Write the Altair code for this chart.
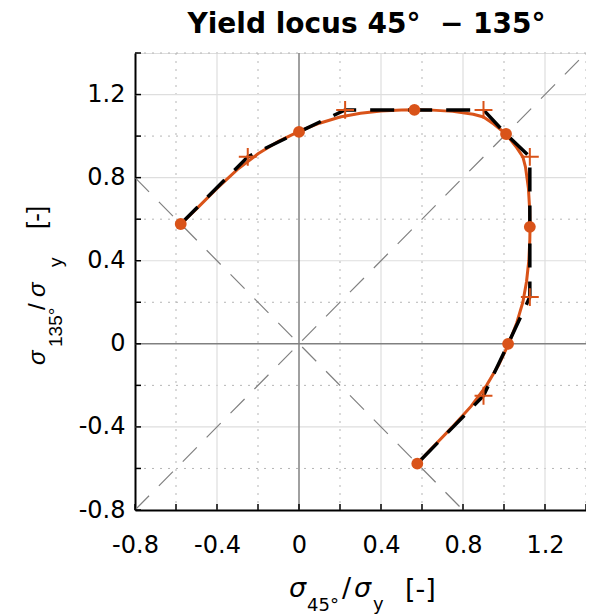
import altair as alt
import pandas as pd

# ---------------- data ----------------
tick_values = [-0.8, -0.6, -0.4, -0.2, 0.0, 0.2, 0.4, 0.6, 0.8, 1.0, 1.2, 1.4]
label_values = [-0.8, -0.4, 0.0, 0.4, 0.8, 1.2]
grid_major = [-0.4, 0.4, 0.8, 1.2]
grid_minor = [-0.6, -0.2, 0.2, 0.6, 1.0, 1.4]
zero_lines = [0.0]

diag_id = ["d1", "d1", "d2", "d2"]
diag_x = [-0.8, 1.4, -0.8, 0.8]
diag_y = [-0.8, 1.4, 0.8, -0.8]

# smooth fitted yield locus (orange)
curve_x = [-0.577, -0.5, -0.4, -0.3, -0.2, -0.1, 0.0, 0.1, 0.2, 0.3, 0.4, 0.5, 0.563,
           0.65, 0.75, 0.85, 0.9, 0.95, 1.01,
           1.058, 1.092, 1.105, 1.119, 1.125, 1.127, 1.126, 1.121, 1.11, 1.092, 1.062,
           1.023, 0.975, 0.915, 0.84, 0.748, 0.65, 0.577]
curve_y = [0.577, 0.65, 0.748, 0.84, 0.915, 0.975, 1.023, 1.062, 1.092, 1.11, 1.121, 1.126, 1.127,
           1.125, 1.119, 1.105, 1.092, 1.058, 1.01,
           0.95, 0.9, 0.85, 0.75, 0.65, 0.563, 0.5, 0.4, 0.3, 0.2, 0.1,
           0.0, -0.1, -0.2, -0.3, -0.4, -0.5, -0.577]

# black dashed polygon
dash_x = [-0.577, -0.25, 0.0, 0.225, 0.563, 0.9, 1.01, 1.126, 1.126, 1.126, 1.02, 0.9, 0.577]
dash_y = [0.577, 0.9, 1.02, 1.126, 1.126, 1.126, 1.01, 0.9, 0.563, 0.225, 0.0, -0.25, -0.577]

# orange filled dots
dot_x = [-0.577, 0.0, 0.563, 1.01, 1.126, 1.02, 0.577]
dot_y = [0.577, 1.02, 1.126, 1.01, 0.563, 0.0, -0.577]

# orange plus markers
plus_x = [-0.25, 0.225, 0.9, 1.126, 1.126, 0.9]
plus_y = [0.9, 1.126, 1.126, 0.9, 0.225, -0.25]

ORANGE = "#D95319"
W, H = 451, 457

xs = alt.Scale(domain=[-0.8, 1.4], nice=False, zero=False)
ys = alt.Scale(domain=[-0.8, 1.4], nice=False, zero=False)

axis_common = dict(
    values=label_values, labelExpr="'' + datum.value", title=None, grid=False,
    ticks=False, tickSize=0, domainColor="black", domainWidth=2,
    labelFont="DejaVu Sans", labelFontSize=24, labelColor="black",
    labelFlush=False, labelOverlap=False,
)
AX = alt.Axis(labelPadding=23, **axis_common)
AY = alt.Axis(labelPadding=10, **axis_common)

grid_minor_df = pd.DataFrame({"v": grid_minor})
grid_major_df = pd.DataFrame({"v": grid_major})
zero_df = pd.DataFrame({"v": zero_lines})
tick_df = pd.DataFrame({"v": tick_values})

def X(f):
    return alt.X(f, scale=xs, axis=AX)

def Y(f):
    return alt.Y(f, scale=ys, axis=AY)

vminor = alt.Chart(grid_minor_df).mark_rule(color="#b5b5b5", strokeWidth=1, strokeDash=[2, 6]).encode(x=X("v:Q"))
hminor = alt.Chart(grid_minor_df).mark_rule(color="#b5b5b5", strokeWidth=1, strokeDash=[2, 6]).encode(y=Y("v:Q"))
vmajor = alt.Chart(grid_major_df).mark_rule(color="#dedede", strokeWidth=1.2).encode(x=X("v:Q"))
hmajor = alt.Chart(grid_major_df).mark_rule(color="#dedede", strokeWidth=1.2).encode(y=Y("v:Q"))
vzero = alt.Chart(zero_df).mark_rule(color="#808080", strokeWidth=1.5).encode(x=X("v:Q"))
hzero = alt.Chart(zero_df).mark_rule(color="#808080", strokeWidth=1.5).encode(y=Y("v:Q"))

diag_df = pd.DataFrame({"id": diag_id, "x": diag_x, "y": diag_y})
diag = alt.Chart(diag_df).mark_line(color="#808080", strokeWidth=1.2, strokeDash=[20, 14]).encode(
    x=X("x:Q"), y=Y("y:Q"), detail="id:N")

xticks = alt.Chart(tick_df).mark_rule(color="black", strokeWidth=1.5).encode(
    x=X("v:Q"), y=alt.value(H), y2=alt.value(H - 6))
yticks = alt.Chart(tick_df).mark_rule(color="black", strokeWidth=1.5).encode(
    y=Y("v:Q"), x=alt.value(0), x2=alt.value(6))

curve_df = pd.DataFrame({"x": curve_x, "y": curve_y, "i": range(len(curve_x))})
curve = alt.Chart(curve_df).mark_line(color=ORANGE, strokeWidth=3).encode(
    x=X("x:Q"), y=Y("y:Q"), order="i:Q")

dash_df = pd.DataFrame({"x": dash_x, "y": dash_y, "i": range(len(dash_x))})
dashed = alt.Chart(dash_df).mark_line(color="black", strokeWidth=3.5, strokeDash=[24, 14]).encode(
    x=X("x:Q"), y=Y("y:Q"), order="i:Q")

dots = alt.Chart(pd.DataFrame({"x": dot_x, "y": dot_y})).mark_point(
    shape="circle", filled=True, color=ORANGE, opacity=1, size=140).encode(
    x=X("x:Q"), y=Y("y:Q"))

plus = alt.Chart(pd.DataFrame({"x": plus_x, "y": plus_y})).mark_point(
    shape="M-1,0H1M0,-1V1", filled=False, color=ORANGE, strokeWidth=2, opacity=1, size=320).encode(
    x=X("x:Q"), y=Y("y:Q"))

one = pd.DataFrame({"k": [0]})

def piece(txt, x, y, size, font, italic=False, angle=0, bold=False, align="left"):
    kw = dict(text=txt, font=font, fontSize=size, align=align, baseline="alphabetic", color="black")
    if italic:
        kw["fontStyle"] = "italic"
    if bold:
        kw["fontWeight"] = "bold"
    if angle:
        kw["angle"] = angle
    return alt.Chart(one).mark_text(**kw).encode(x=alt.value(x), y=alt.value(y))

title = piece("Yield locus 45°\u00a0 − 135°", W / 2 + 6, -20, 28, "DejaVu Sans", bold=True, align="center")

xt = [
    piece("σ", 154, 544, 27, "DejaVu Sans", italic=True),
    piece("45°", 172, 558, 18, "DejaVu Sans"),
    piece("/", 207, 544, 27, "DejaVu Sans"),
    piece("σ", 219, 544, 27, "DejaVu Sans", italic=True),
    piece("y", 238, 557, 18, "DejaVu Sans"),
    piece("[-]", 270, 545, 27, "DejaVu Sans"),
]
yt = [
    piece("σ", -90, 312, 24, "Liberation Sans", italic=True, angle=270),
    piece("135°", -73, 294, 19, "Liberation Sans", angle=270),
    piece("/", -90, 257, 24, "Liberation Sans", angle=270),
    piece("σ", -90, 244, 24, "Liberation Sans", italic=True, angle=270),
    piece("y", -73, 214, 19, "Liberation Sans", angle=270),
    piece("[-]", -90, 176, 26, "Liberation Sans", angle=270),
]

chart = alt.layer(
    vminor, hminor, vmajor, hmajor, vzero, hzero, diag, xticks, yticks,
    curve, dashed, dots, plus, title, *xt, *yt
).properties(
    width=W, height=H,
    autosize=alt.AutoSizeParams(type="none"),
    padding={"left": 127, "top": 45, "right": 0, "bottom": 106},
).configure_view(strokeWidth=0).configure(font="DejaVu Sans")

chart.save("out.html", embed_options={"renderer": "svg", "actions": False})
